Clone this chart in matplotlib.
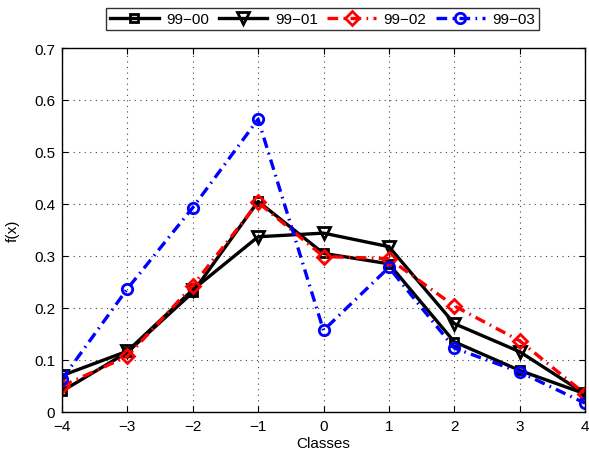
import matplotlib
matplotlib.use("Agg")
import matplotlib.pyplot as plt
from matplotlib.ticker import MultipleLocator

plt.rcParams['font.family'] = ['Liberation Sans', 'DejaVu Sans']

classes = [-4, -3, -2, -1, 0, 1, 2, 3, 4]
f_99_00 = [0.040, 0.115, 0.230, 0.405, 0.305, 0.285, 0.135, 0.080, 0.035]
f_99_01 = [0.070, 0.117, 0.235, 0.337, 0.344, 0.318, 0.170, 0.116, 0.035]
f_99_02 = [0.050, 0.107, 0.243, 0.403, 0.299, 0.295, 0.204, 0.137, 0.035]
f_99_03 = [0.063, 0.237, 0.393, 0.563, 0.157, 0.278, 0.123, 0.077, 0.017]
series_labels = ['99\u221200', '99\u221201', '99\u221202', '99\u221203']
xtick_labels = ['\u22124', '\u22123', '\u22122', '\u22121', '0', '1', '2', '3', '4']
ytick_values = [0, 0.1, 0.2, 0.3, 0.4, 0.5, 0.6, 0.7]
ytick_labels = ['0', '0.1', '0.2', '0.3', '0.4', '0.5', '0.6', '0.7']

fig = plt.figure(figsize=(5.89, 4.64), dpi=100)
ax = fig.add_axes([62/589, 1 - 413/464, (585-62)/589, (413-49)/464])

lw = 2.4
ms = 7
mew = 2.0
dashdot = (0, (3.2, 1.6, 0.5, 1.6))
ax.plot(classes, f_99_00, color='black', linestyle='-', linewidth=lw,
        marker='s', markersize=ms-1, markerfacecolor='none', markeredgewidth=mew,
        label=series_labels[0])
ax.plot(classes, f_99_01, color='black', linestyle='-', linewidth=lw,
        marker='v', markersize=ms+1, markerfacecolor='none', markeredgewidth=mew,
        label=series_labels[1])
ax.plot(classes, f_99_02, color='red', linestyle=dashdot, linewidth=lw,
        marker='D', markersize=ms, markerfacecolor='none', markeredgewidth=mew,
        label=series_labels[2])
ax.plot(classes, f_99_03, color='blue', linestyle=dashdot, linewidth=lw,
        marker='o', markersize=ms+0.5, markerfacecolor='none', markeredgewidth=mew,
        label=series_labels[3])

ax.set_xlim(-4, 4)
ax.set_ylim(0, 0.7)
ax.set_xticks(classes)
ax.set_xticklabels(xtick_labels)
ax.set_yticks(ytick_values)
ax.set_yticklabels(ytick_labels)
ax.tick_params(direction='in', length=4, width=0.8, labelsize=11, top=True, right=True, pad=5)
ax.grid(True, linestyle=(0, (1, 4)), color='#444444', linewidth=0.8)
for s in ax.spines.values():
    s.set_linewidth(1.0)

ax.set_xlabel('Classes', fontsize=11, labelpad=2)
ax.set_ylabel('f(x)', fontsize=11, labelpad=10)

leg = fig.legend(loc='center', bbox_to_anchor=(322.5/589, 1 - 20/464), ncol=4,
                 fontsize=11, frameon=True, fancybox=False, edgecolor='black',
                 handlelength=3.2, handletextpad=0.5, columnspacing=0.6,
                 borderpad=0.25, borderaxespad=0)
leg.get_frame().set_linewidth(1.0)

fig.savefig('out.png', dpi=100)
